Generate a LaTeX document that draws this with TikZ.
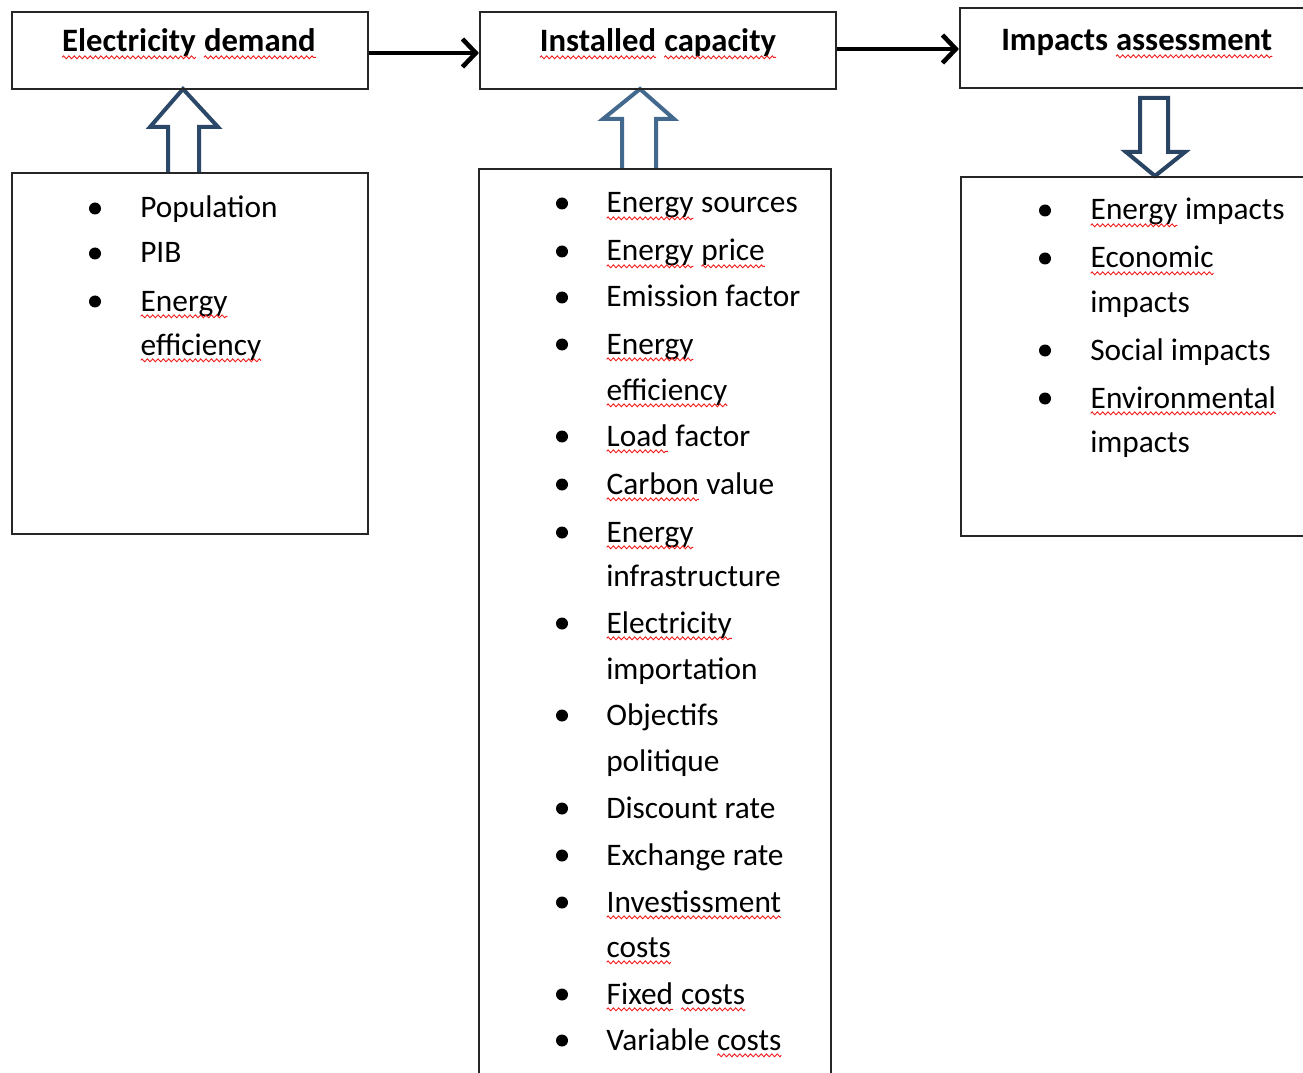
\documentclass[tikz,border=0pt]{standalone}
\usepackage{fontspec}
\setmainfont{Carlito}
\usetikzlibrary{arrows.meta,decorations.pathmorphing,fit}
\definecolor{baone}{HTML}{2C4868}
\definecolor{batwo}{HTML}{44698F}
\definecolor{bathree}{HTML}{2A4463}
\definecolor{squigred}{HTML}{F01818}
\tikzset{
 box/.style={draw=black!85, line width=1.6pt, inner sep=0pt},
 ttl/.style={anchor=base, inner sep=0pt, font=\fontsize{24.5}{29}\selectfont\bfseries},
 txt/.style={anchor=base west, inner sep=0pt, font=\fontsize{23.5}{28}\selectfont},
 bul/.style={circle, fill=black, inner sep=0pt, minimum size=9pt},
 flow/.style={line width=3.4pt, -{Straight Barb[length=10pt,width=21pt]}},
 blockarrow/.style={line width=3pt, fill=white, line join=miter},
 squig/.style={draw=squigred, line width=0.65pt, decorate, decoration={zigzag, amplitude=1.1pt, segment length=4pt}},
}
\newcommand\sq[1]{\tikz[baseline=(sqw.base)]{\node[inner sep=0pt,outer sep=0pt,draw=none,fill=none,anchor=base] (sqw) at (0,0) {#1}; \draw[squig] ([yshift=-4pt]sqw.base west) -- ([yshift=-4pt]sqw.base east);}}
\begin{document}
\begin{tikzpicture}[x=0.75pt,y=-0.75pt]
\useasboundingbox[fill=white] (0,0) rectangle (1303,1073);
% block arrows
\filldraw[blockarrow, draw=baone] (199,173) -- (199,127) -- (218,127) -- (183,89) -- (150,127) -- (168,127) -- (168,173);
\filldraw[blockarrow, draw=batwo] (656,169) -- (656,119) -- (674,119) -- (640,89) -- (603,119) -- (622,119) -- (622,169);
\filldraw[blockarrow, draw=bathree] (1140,98) -- (1168,98) -- (1168,152) -- (1185,152) -- (1155,176) -- (1126,152) -- (1140,152) -- cycle;
% boxes
\node[box, fit={(12,12) (368,89)}] (dem) {};
\node[box, fit={(480,12) (836,89)}] (cap) {};
\node[box, fit={(960,8) (1314,88)}] (imp) {};
\node[box, fit={(12,173) (368,534)}] (pop) {};
\node[box, fit={(479,169) (831,1090)}] (par) {};
\node[box, fit={(961,177) (1314,536)}] (res) {};
% titles
\node[ttl] (tdem) at (189,52) {\sq{Electricity} \sq{demand}};
\node[ttl] (tcap) at (658,52) {\sq{Installed} \sq{capacity}};
\node[ttl] (timp) at (1137,51) {Impacts \sq{assessment}};
% flow arrows
\draw[flow] (dem.east |- 0,53) -- (cap.west |- 0,53);
\draw[flow] (cap.east |- 0,49) -- (imp.west |- 0,49);
% box 1 items
\node[bul] (b11) at (95,208.5) {};
\node[bul] (b12) at (95,253.5) {};
\node[bul] (b13) at (95,301.5) {};
\node[txt] (t11) at (140,218) {Population};
\node[txt] (t12) at (140,263) {PIB};
\node[txt] (t13) at (140,311) {\sq{Energy}};
\node[txt] (t13b) at (140,355) {\sq{efficiency}};
% box 2 items
\foreach \y [count=\i] in {213,261,307,354,446,494,542,633,725,818,865,912,1004,1050}
  \node[bul] (b2\i) at (562,\y-9.5) {};
\node[txt] (t21) at (606,213) {\sq{Energy} sources};
\node[txt] (t22) at (606,261) {\sq{Energy} \sq{price}};
\node[txt] (t23) at (606,307) {Emission factor};
\node[txt] (t24) at (606,354) {\sq{Energy}};
\node[txt] (t24b) at (606,400) {\sq{efficiency}};
\node[txt] (t25) at (606,446) {\sq{Load} factor};
\node[txt] (t26) at (606,494) {\sq{Carbon} value};
\node[txt] (t27) at (606,542) {\sq{Energy}};
\node[txt] (t27b) at (606,586) {infrastructure};
\node[txt] (t28) at (606,633) {\sq{Electricity}};
\node[txt] (t28b) at (606,679) {importation};
\node[txt] (t29) at (606,725) {Objectifs};
\node[txt] (t29b) at (606,771) {politique};
\node[txt] (t210) at (606,818) {Discount rate};
\node[txt] (t211) at (606,865) {Exchange rate};
\node[txt] (t212) at (606,912) {\sq{Investissment}};
\node[txt] (t212b) at (606,957) {\sq{costs}};
\node[txt] (t213) at (606,1004) {\sq{Fixed} \sq{costs}};
\node[txt] (t214) at (606,1050) {Variable \sq{costs}};
% box 3 items
\foreach \y [count=\i] in {220,268,360,408}
  \node[bul] (b3\i) at (1045,\y-9.5) {};
\node[txt] (t31) at (1090,220) {\sq{Energy} impacts};
\node[txt] (t32) at (1090,268) {\sq{Economic}};
\node[txt] (t32b) at (1090,313) {impacts};
\node[txt] (t33) at (1090,360) {Social impacts};
\node[txt] (t34) at (1090,408) {\sq{Environmental}};
\node[txt] (t34b) at (1090,452) {impacts};
\end{tikzpicture}
\end{document}
